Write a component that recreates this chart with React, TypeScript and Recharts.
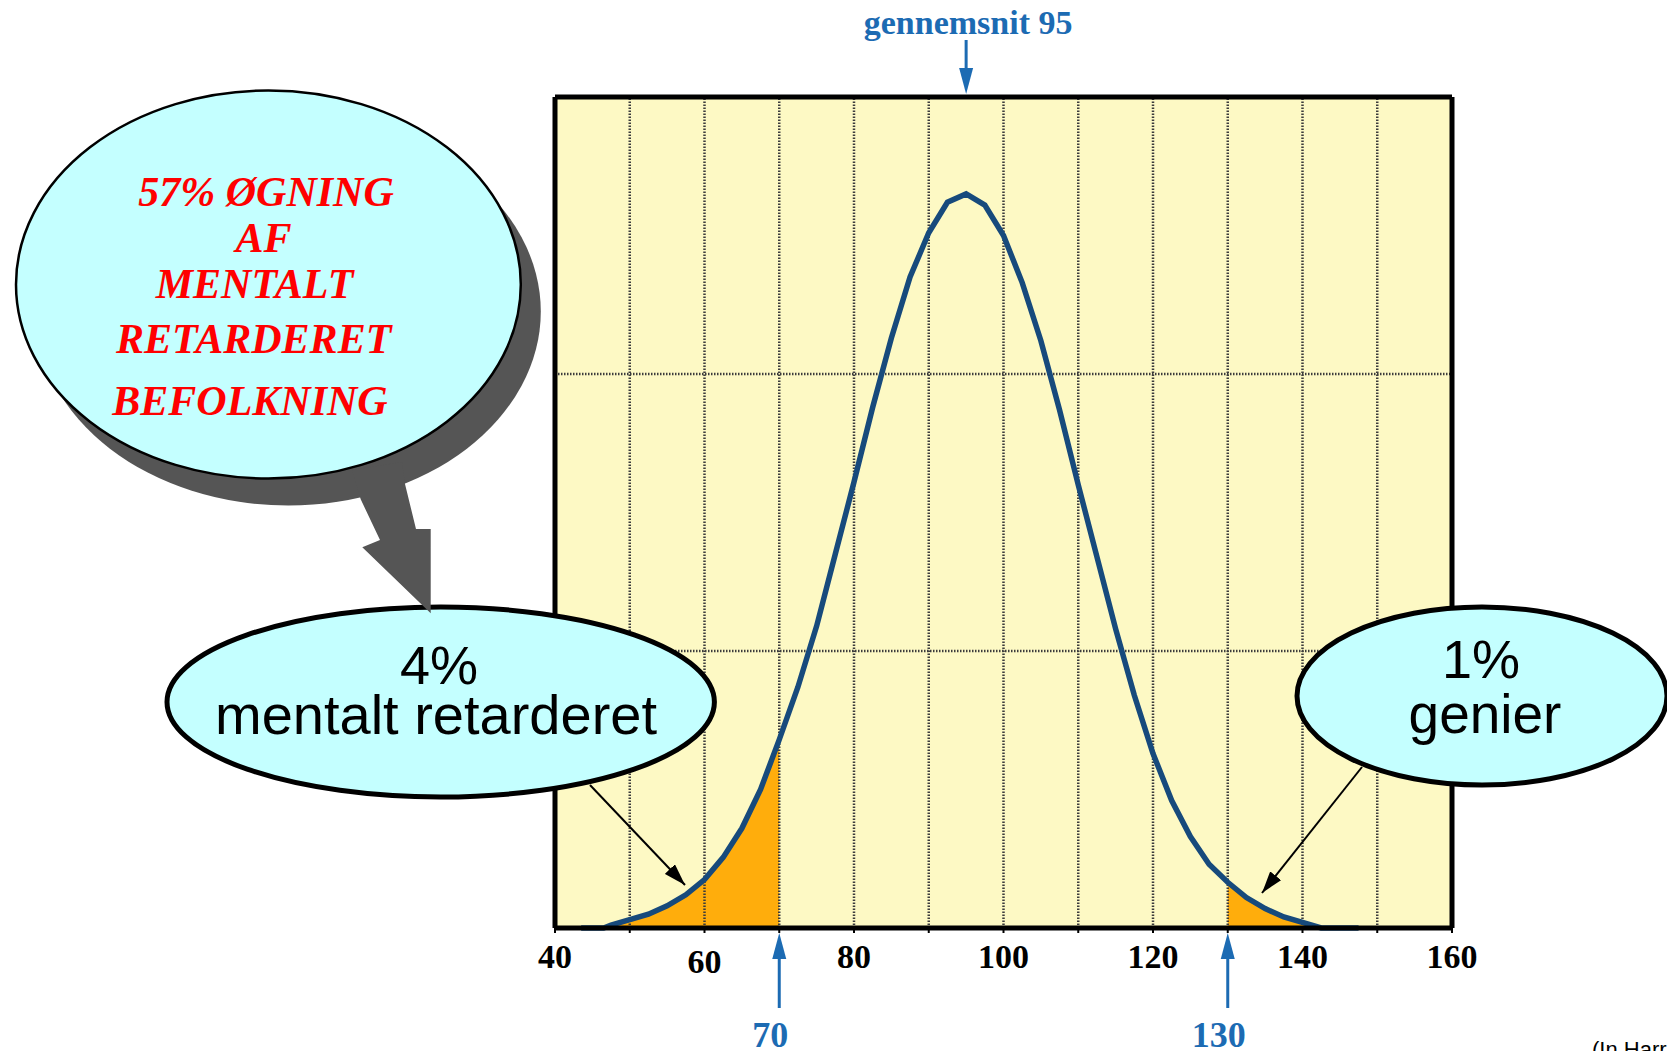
import React from 'react';
import { ComposedChart, Line, Area, XAxis, YAxis, CartesianGrid, ReferenceLine } from 'recharts';

// IQ score (x) and share of population per IQ point, in percent (y)
const iqValues = [43.5, 46.5, 47.5, 50, 52.5, 55, 57.5, 60, 62.5, 65, 67.5, 70, 72.5, 75, 77.5, 80, 82.5, 85, 87.5, 90, 92.5, 95, 97.5, 100, 102.5, 105, 107.5, 110, 112.5, 115, 117.5, 120, 122.5, 125, 127.5, 130, 132.5, 135, 137.5, 140, 142.5, 147.5];
const densityValues = [0, 0, 0.01, 0.03, 0.05, 0.08, 0.12, 0.175, 0.255, 0.36, 0.5, 0.68, 0.87, 1.09, 1.35, 1.61, 1.88, 2.13, 2.35, 2.51, 2.62, 2.65, 2.61, 2.5, 2.33, 2.12, 1.87, 1.6, 1.34, 1.08, 0.84, 0.63, 0.46, 0.33, 0.23, 0.165, 0.11, 0.07, 0.04, 0.02, 0, 0];

const lowCut = 70;
const highCut = 130;
const meanValue = 95;

const xLabelTicks = [40, 60, 80, 100, 120, 140, 160];
const xGridTicks = [40, 50, 60, 70, 80, 90, 100, 110, 120, 130, 140, 150, 160];
const xInnerGrid = [50, 60, 70, 80, 90, 100, 110, 120, 130, 140, 150];
const xMinorTicks = [45, 55, 65, 75, 85, 95, 105, 115, 125, 135, 145, 155];
const yTicks = [0, 1, 2, 3];
const yInnerGrid = [1, 2];

const rows = iqValues.map((x, i) => ({
  x,
  y: densityValues[i],
  lo: x <= lowCut ? densityValues[i] : undefined,
  hi: x >= highCut ? densityValues[i] : undefined,
}));

const BLUE = '#1C6BB3';
const SERIF = '"Liberation Serif", "Times New Roman", serif';
const SANS = '"Liberation Sans", Arial, sans-serif';

const BottomTick = (props: any) => {
  const { x, y, payload } = props;
  const v = payload.value;
  if (!xLabelTicks.includes(v)) return <g />;
  return (
    <text x={x} y={y + (v === 60 ? 5 : 0)} dy="0.71em" textAnchor="middle" fontFamily={SERIF} fontWeight="bold" fontSize={34} fill="#000">
      {v}
    </text>
  );
};

const meanShape = (p: any) => {
  const x = p.x1;
  const top = Math.min(p.y1, p.y2);
  const tip = top - 3;
  return (
    <g>
      <line x1={x} y1={top - 57} x2={x} y2={tip - 22} stroke={BLUE} strokeWidth={3} />
      <polygon points={`${x - 7},${tip - 26} ${x + 7},${tip - 26} ${x},${tip}`} fill={BLUE} />
      <text x={x + 2} y={top - 63} textAnchor="middle" fontFamily={SERIF} fontWeight="bold" fontSize={34} fill={BLUE}>
        gennemsnit {meanValue}
      </text>
    </g>
  );
};

const cutShape = (label: number) => (p: any) => {
  const x = p.x1;
  const bottom = Math.max(p.y1, p.y2);
  const tip = bottom + 5;
  return (
    <g>
      <line x1={x} y1={tip + 22} x2={x} y2={bottom + 80} stroke={BLUE} strokeWidth={3} />
      <polygon points={`${x - 7},${tip + 26} ${x + 7},${tip + 26} ${x},${tip}`} fill={BLUE} />
      <text x={x - 9} y={bottom + 119} textAnchor="middle" fontFamily={SERIF} fontWeight="bold" fontSize={36} fill={BLUE}>
        {label}
      </text>
    </g>
  );
};

const Overlay = () => (
  <svg width={1667} height={1051} style={{ position: 'absolute', left: 0, top: 0, pointerEvents: 'none' }}>
    <defs>
      <marker id="ah" markerUnits="userSpaceOnUse" markerWidth={22} markerHeight={14} refX={22} refY={7} orient="auto">
        <path d="M0,0 L22,7 L0,14 z" fill="#000" />
      </marker>
    </defs>
    {/* lower-left callout */}
    <ellipse cx={440.7} cy={702} rx={273.7} ry={95} fill="#C4FFFF" stroke="#000" strokeWidth={5} />
    <text x={439} y={683.6} textAnchor="middle" fontFamily={SANS} fontSize={54} fill="#000">4%</text>
    <text x={436} y={733.6} textAnchor="middle" fontFamily={SANS} fontSize={56} fill="#000">mentalt retarderet</text>
    <line x1={590} y1={785} x2={685} y2={885} stroke="#000" strokeWidth={2} markerEnd="url(#ah)" />

    {/* right callout */}
    <ellipse cx={1482} cy={696} rx={185} ry={89} fill="#C4FFFF" stroke="#000" strokeWidth={5} />
    <text x={1481} y={678} textAnchor="middle" fontFamily={SANS} fontSize={54} fill="#000">1%</text>
    <text x={1485} y={733} textAnchor="middle" fontFamily={SANS} fontSize={55} fill="#000">genier</text>
    <line x1={1362} y1={767} x2={1262} y2={893} stroke="#000" strokeWidth={2} markerEnd="url(#ah)" />

    {/* big bubble */}
    <ellipse cx={288.4} cy={311.5} rx={252.4} ry={194} fill="#555555" />
    <polygon points="352,470 360.7,499.3 380,540 362.3,547.3 430.7,613.3 430.7,529 416,529 405,484 402,462" fill="#555555" />
    <ellipse cx={268.4} cy={284.5} rx={252.4} ry={194} fill="#C4FFFF" stroke="#000" strokeWidth={2.5} />
    <g fontFamily={SERIF} fontWeight="bold" fontStyle="italic" fontSize={42} fill="#FF0000" textAnchor="middle">
      <text x={266} y={206.4}>57% ØGNING</text>
      <text x={263.4} y={252}>AF</text>
      <text x={254.5} y={297.5}>MENTALT</text>
      <text x={253.6} y={352.9}>RETARDERET</text>
      <text x={250} y={415.4}>BEFOLKNING</text>
    </g>

    <text x={1592} y={1057} fontFamily={SANS} fontSize={22} fill="#000">(In Harr</text>
  </svg>
);

const gridStyle = { stroke: '#3c3c3c', strokeWidth: 2.5, strokeDasharray: '1.5 1.5' };

export default function App() {
  return (
    <div style={{ position: 'absolute', left: 0, top: 0, width: 1667, height: 1051, background: '#fff', overflow: 'hidden' }}>
      <ComposedChart width={1667} height={1051} data={rows} margin={{ top: 95, right: 214, bottom: 63, left: 554 }}>
        <CartesianGrid fill="#FDF9C4" horizontal={false} vertical={false} />
        <XAxis
          dataKey="x"
          type="number"
          domain={[40, 160]}
          ticks={xGridTicks}
          interval={0}
          allowDataOverflow
          height={60}
          tickSize={5}
          tickMargin={11}
          tickLine={{ stroke: '#000', strokeWidth: 2 }}
          axisLine={{ stroke: '#000', strokeWidth: 5 }}
          tick={<BottomTick />}
        />
        <XAxis
          xAxisId="top10"
          orientation="top"
          type="number"
          domain={[40, 160]}
          ticks={xGridTicks}
          interval={0}
          height={1}
          tickSize={6}
          tick={false}
          tickLine={{ stroke: '#000', strokeWidth: 2 }}
          axisLine={{ stroke: '#000', strokeWidth: 5 }}
        />
        <XAxis
          xAxisId="top5"
          orientation="top"
          type="number"
          domain={[40, 160]}
          ticks={xMinorTicks}
          interval={0}
          height={1}
          tickSize={3}
          tick={false}
          tickLine={{ stroke: '#000', strokeWidth: 2 }}
          axisLine={false}
        />
        <YAxis
          type="number"
          domain={[0, 3]}
          ticks={yTicks}
          interval={0}
          width={1}
          tickSize={6}
          tick={false}
          tickLine={{ stroke: '#000', strokeWidth: 2 }}
          axisLine={{ stroke: '#000', strokeWidth: 5 }}
        />
        <YAxis
          yAxisId="right"
          orientation="right"
          type="number"
          domain={[0, 3]}
          ticks={yTicks}
          width={1}
          tick={false}
          tickLine={false}
          axisLine={{ stroke: '#000', strokeWidth: 5 }}
        />
        {xInnerGrid.map((v) => (
          <ReferenceLine key={`vx${v}`} x={v} {...gridStyle} />
        ))}
        {yInnerGrid.map((v) => (
          <ReferenceLine key={`hy${v}`} y={v} {...gridStyle} />
        ))}
        <Area dataKey="lo" type="linear" fill="#FFAD0C" fillOpacity={1} stroke="none" isAnimationActive={false} connectNulls={false} />
        <Area dataKey="hi" type="linear" fill="#FFAD0C" fillOpacity={1} stroke="none" isAnimationActive={false} connectNulls={false} />
        <Line dataKey="y" type="linear" stroke="#174A7C" strokeWidth={5.5} dot={false} isAnimationActive={false} />
        <ReferenceLine x={meanValue} stroke="none" shape={meanShape} />
        <ReferenceLine x={lowCut} stroke="none" shape={cutShape(lowCut)} />
        <ReferenceLine x={highCut} stroke="none" shape={cutShape(highCut)} />
      </ComposedChart>
      <Overlay />
    </div>
  );
}
